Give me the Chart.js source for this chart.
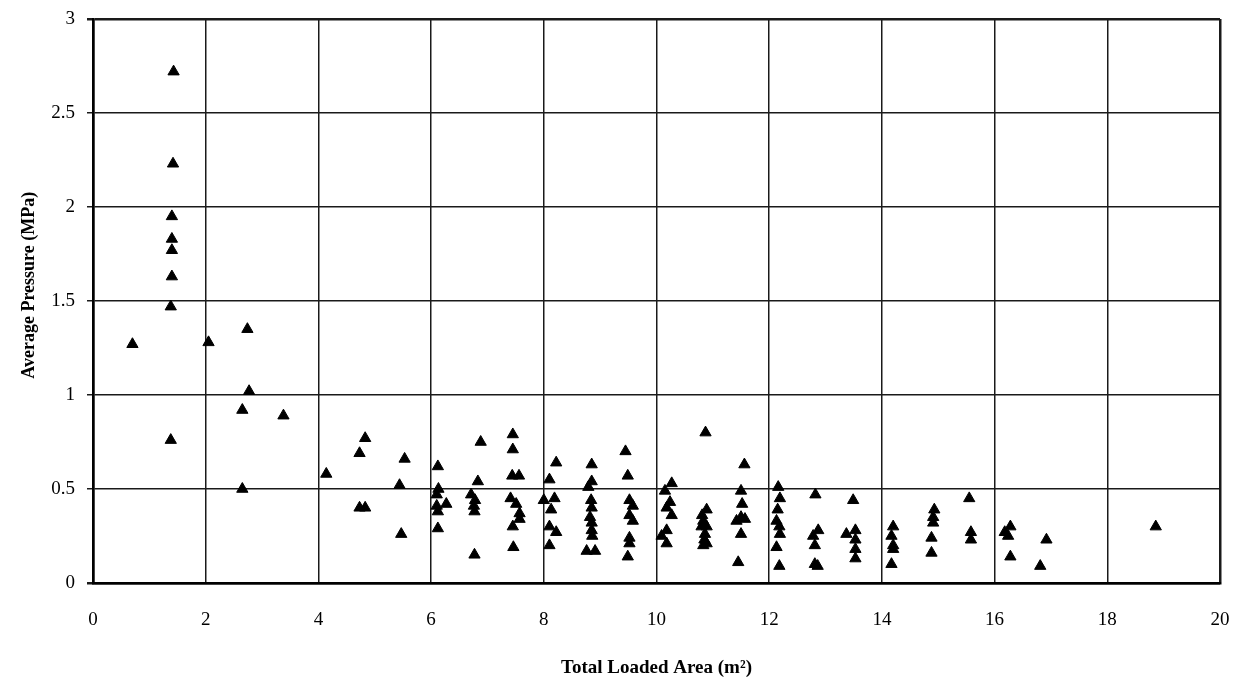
<!DOCTYPE html>
<html>
<head>
<meta charset="utf-8">
<script src="https://cdn.jsdelivr.net/npm/chart.js@4"></script>
<style>
  html, body { margin: 0; padding: 0; background: #fff; }
  #wrap { width: 1239px; height: 683px; }
</style>
</head>
<body>
<div id="wrap"><canvas id="pressureChart"></canvas></div>
<script>
// values
const loadedArea = [
  0.70, 1.43, 1.42, 1.40, 1.40, 1.40, 1.40, 1.38, 1.38, 2.05,
  2.74, 2.77, 2.65, 2.65, 3.38, 4.14, 4.73, 4.83, 4.73, 4.83,
  5.53, 5.44, 5.47,
  6.12, 6.13, 6.10, 6.27, 6.10, 6.12, 6.12,
  6.88, 6.83, 6.71, 6.78, 6.76, 6.77, 6.77,
  7.45, 7.45, 7.44, 7.56, 7.41, 7.51, 7.57, 7.57, 7.45, 7.46,
  8.22, 8.10, 8.00, 8.19, 8.13, 8.10, 8.22, 8.10,
  8.85, 8.85, 8.79, 8.84, 8.85, 8.82, 8.85, 8.85, 8.86, 8.76, 8.91,
  9.45, 9.49, 9.52, 9.58, 9.52, 9.58, 9.52, 9.52, 9.49,
  10.27, 10.15, 10.24, 10.18, 10.27, 10.18, 10.09, 10.18,
  10.87, 10.89, 10.83, 10.80, 10.89, 10.86, 10.83, 10.89, 10.81, 10.85,
  11.56, 11.50, 11.52, 11.50, 11.42, 11.57, 11.50, 11.45,
  12.16, 12.19, 12.15, 12.13, 12.18, 12.19, 12.13, 12.18,
  12.82, 12.87, 12.78, 12.81, 12.81, 12.86,
  13.49, 13.37, 13.53, 13.53, 13.53, 13.53,
  14.20, 14.17, 14.20, 14.20, 14.17,
  14.93, 14.91, 14.91, 14.88, 14.88,
  15.55, 15.58, 15.58,
  16.28, 16.18, 16.24, 16.28, 16.92, 16.81, 18.86
];
const avgPressure = [
  1.27, 2.72, 2.23, 1.95, 1.83, 1.77, 1.63, 1.47, 0.76, 1.28,
  1.35, 1.02, 0.92, 0.50, 0.89, 0.58, 0.69, 0.77, 0.40, 0.40,
  0.66, 0.52, 0.26,
  0.62, 0.50, 0.47, 0.42, 0.41, 0.38, 0.29,
  0.75, 0.54, 0.47, 0.44, 0.41, 0.38, 0.15,
  0.79, 0.71, 0.57, 0.57, 0.45, 0.42, 0.37, 0.34, 0.30, 0.19,
  0.64, 0.55, 0.44, 0.45, 0.39, 0.30, 0.27, 0.20,
  0.63, 0.54, 0.51, 0.44, 0.40, 0.35, 0.32, 0.28, 0.25, 0.17, 0.17,
  0.70, 0.57, 0.44, 0.41, 0.36, 0.33, 0.24, 0.21, 0.14,
  0.53, 0.49, 0.43, 0.40, 0.36, 0.28, 0.25, 0.21,
  0.80, 0.39, 0.33, 0.30, 0.30, 0.26, 0.20, 0.21, 0.36, 0.23,
  0.63, 0.49, 0.42, 0.35, 0.33, 0.34, 0.26, 0.11,
  0.51, 0.45, 0.39, 0.33, 0.30, 0.26, 0.19, 0.09,
  0.47, 0.28, 0.25, 0.20, 0.10, 0.09,
  0.44, 0.26, 0.28, 0.23, 0.18, 0.13,
  0.30, 0.25, 0.20, 0.18, 0.10,
  0.39, 0.35, 0.32, 0.24, 0.16,
  0.45, 0.27, 0.23,
  0.30, 0.27, 0.25, 0.14, 0.23, 0.09, 0.30
];
const xTicks = [0, 2, 4, 6, 8, 10, 12, 14, 16, 18, 20];
const yTicks = [0, 0.5, 1, 1.5, 2, 2.5, 3];

const points = loadedArea.map((x, i) => ({x: x, y: avgPressure[i]}));
const serif = "'Liberation Serif', 'Times New Roman', serif";

const pressureChart = new Chart("pressureChart", {
  type: "scatter",
  data: {
    datasets: [{
      data: points,
      pointStyle: "triangle",
      pointRadius: 6.5,
      pointHoverRadius: 6.5,
      pointBackgroundColor: "#000",
      pointBorderColor: "#000",
      pointBorderWidth: 1
    }]
  },
  options: {
    responsive: true,
    maintainAspectRatio: false,
    animation: false,
    layout: {
      padding: {top: 19, right: 19, left: 0, bottom: 0}
    },
    plugins: {
      legend: {display: false},
      tooltip: {enabled: false}
    },
    scales: {
      x: {
        type: "linear",
        min: 0,
        max: 20,
        afterBuildTicks: (scale) => { scale.ticks = xTicks.map(v => ({value: v})) },
        afterFit: (scale) => {
          scale.height = 100
          scale.paddingLeft = 0
          scale.paddingRight = 0
        },
        grid: {
          color: "#1a1a1a",
          lineWidth: (ctx) => (ctx.tick && (ctx.tick.value === 0 || ctx.tick.value === 20)) ? 2.5 : 1.5,
          drawTicks: false
        },
        border: {color: "#000", width: 2.5},
        ticks: {
          color: "#000",
          padding: 26,
          callback: (v) => String(v),
          font: {family: serif, size: 19}
        },
        title: {
          display: true,
          text: "Total Loaded Area (m\u00B2)",
          color: "#000",
          padding: {top: 0, bottom: 4},
          font: {family: serif, size: 19, weight: "bold"}
        }
      },
      y: {
        type: "linear",
        min: 0,
        max: 3,
        afterBuildTicks: (scale) => { scale.ticks = yTicks.map(v => ({value: v})) },
        afterFit: (scale) => {
          scale.width = 93
          scale.paddingTop = 0
          scale.paddingBottom = 0
        },
        grid: {
          color: "#1a1a1a",
          lineWidth: (ctx) => (ctx.tick && (ctx.tick.value === 0 || ctx.tick.value === 3)) ? 2.5 : 1.5,
          tickLength: 6
        },
        border: {color: "#000", width: 2.5},
        ticks: {
          color: "#000",
          padding: 12,
          callback: (v) => String(v),
          font: {family: serif, size: 19}
        },
        title: {
          display: true,
          text: "       Average Pressure (MPa)",
          color: "#000",
          padding: {top: 19, bottom: 0},
          font: {family: serif, size: 18, weight: "bold"}
        }
      }
    }
  }
});
</script>
</body>
</html>
